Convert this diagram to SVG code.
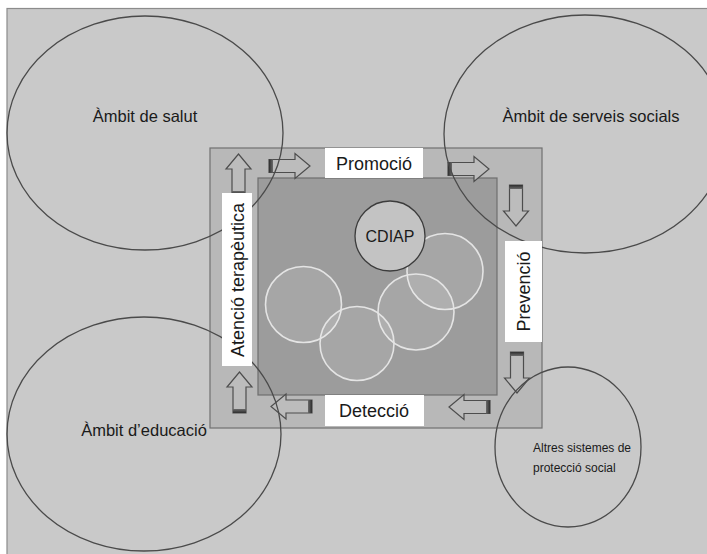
<svg xmlns="http://www.w3.org/2000/svg" width="707" height="554" viewBox="0 0 707 554">
  <style>
    .lbl { font-family: "Liberation Sans", Arial, sans-serif; fill: #1a1a1a; }
    .area { fill: none; stroke: #4a4a4a; stroke-width: 1.3; }
    .arrow { fill: #bcbcbc; stroke: #4d4d4d; stroke-width: 1.2; stroke-linejoin: miter; }
    .tail { fill: url(#tailShade); }
    .bubble { fill: #ffffff; fill-opacity: 0.1; stroke: #e4e4e4; stroke-width: 1.6; }
    .tag { fill: #ffffff; }
  </style>
  <defs>
    <linearGradient id="tailShade" x1="0" y1="0" x2="1" y2="0">
      <stop offset="0" stop-color="#2e2e2e"/>
      <stop offset="1" stop-color="#6a6a6a"/>
    </linearGradient>
    <!-- block arrow pointing right, tail at x=0, tip at x=41 -->
    <g id="blockArrow">
      <path class="arrow" d="M0,-6.5 H26 V-12.5 L41,0 L26,12.5 V6.5 H0 Z"/>
      <rect class="tail" x="0" y="-6.5" width="4" height="13"/>
    </g>
  </defs>

  <!-- page background -->
  <rect x="7" y="8.5" width="710" height="560" fill="#c9c9c9" stroke="#8c8c8c" stroke-width="1.2"/>

  <!-- central frame -->
  <g id="frame">
    <rect x="210" y="148" width="332" height="280" fill="#b8b8b8" stroke="#707070" stroke-width="1.2"/>
    <rect x="258" y="178" width="239" height="217" fill="#9c9c9c" stroke="#6e6e6e" stroke-width="1.2"/>
  </g>

  <!-- cycle arrows around the frame -->
  <g id="connectors">
    <use href="#blockArrow" transform="translate(238.5,195) rotate(-90)"/>
    <use href="#blockArrow" transform="translate(269,166)"/>
    <use href="#blockArrow" transform="translate(448,169)"/>
    <use href="#blockArrow" transform="translate(516,185) rotate(90)"/>
    <use href="#blockArrow" transform="translate(517,352) rotate(90)"/>
    <use href="#blockArrow" transform="translate(490,407) rotate(180)"/>
    <use href="#blockArrow" transform="translate(312,406.5) rotate(180)"/>
    <use href="#blockArrow" transform="translate(239.5,413) rotate(-90)"/>
  </g>

  <!-- services inside the CDIAP frame -->
  <g id="services">
    <circle class="bubble" cx="445" cy="271.5" r="38"/>
    <circle class="bubble" cx="303.5" cy="304.5" r="38"/>
    <circle class="bubble" cx="416" cy="312" r="38"/>
    <circle class="bubble" cx="357" cy="343.5" r="37"/>
  </g>

  <g id="cdiap">
    <circle cx="390" cy="236" r="35" fill="#c3c3c3" stroke="#3c3c3c" stroke-width="1.3"/>
    <text class="lbl" x="390" y="242" font-size="16" text-anchor="middle">CDIAP</text>
  </g>

  <!-- surrounding fields -->
  <g id="salut">
    <ellipse class="area" cx="145" cy="133" rx="138" ry="117"/>
    <text class="lbl" x="145" y="122" font-size="16.5" text-anchor="middle">Àmbit de salut</text>
  </g>
  <g id="serveis-socials">
    <ellipse class="area" cx="585" cy="134" rx="141" ry="119"/>
    <text class="lbl" x="591" y="122" font-size="16.5" text-anchor="middle">Àmbit de serveis socials</text>
  </g>
  <g id="educacio">
    <ellipse class="area" cx="144" cy="434" rx="137" ry="117"/>
    <text class="lbl" x="144" y="436" font-size="16.5" text-anchor="middle">Àmbit d’educació</text>
  </g>
  <g id="altres-sistemes">
    <ellipse class="area" cx="568" cy="447" rx="73" ry="80"/>
    <text class="lbl" x="533" y="452" font-size="12">Altres sistemes de</text>
    <text class="lbl" x="533" y="472" font-size="12">protecció social</text>
  </g>

  <!-- stage labels -->
  <g id="promocio">
    <rect class="tag" x="325" y="148" width="98" height="30"/>
    <text class="lbl" x="374" y="170" font-size="18" text-anchor="middle">Promoció</text>
  </g>
  <g id="prevencio">
    <rect class="tag" x="505" y="241" width="37" height="101"/>
    <text class="lbl" transform="translate(523,291.5) rotate(-90)" y="6.5" font-size="18" text-anchor="middle">Prevenció</text>
  </g>
  <g id="deteccio">
    <rect class="tag" x="325" y="395" width="99" height="31"/>
    <text class="lbl" x="374" y="417" font-size="18" text-anchor="middle">Detecció</text>
  </g>
  <g id="atencio">
    <rect class="tag" x="222" y="193" width="30" height="173"/>
    <text class="lbl" transform="translate(237,280) rotate(-90)" y="6.5" font-size="18" text-anchor="middle">Atenció terapèutica</text>
  </g>
</svg>
